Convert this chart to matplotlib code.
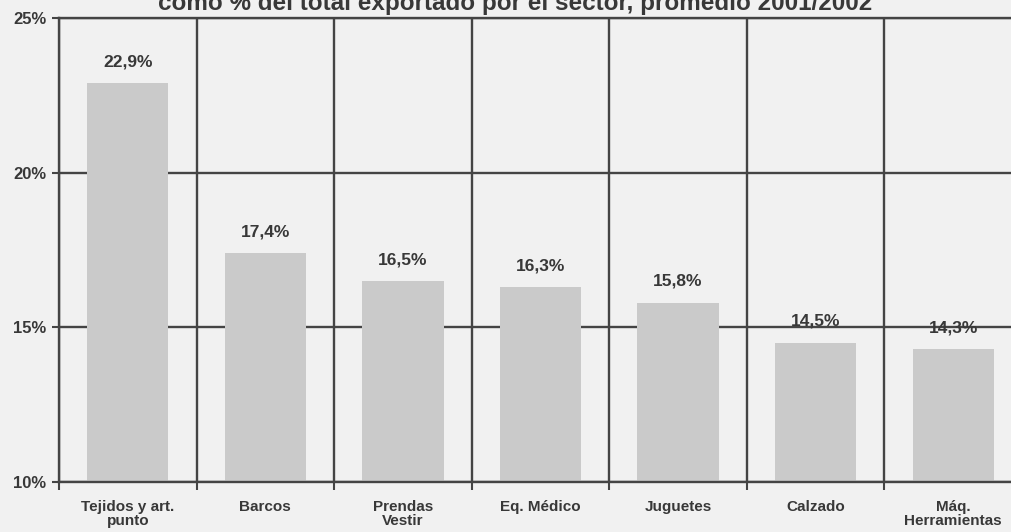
import numpy as np
import matplotlib
matplotlib.use('Agg')
from matplotlib import pyplot as plt

plt.rcParams['font.family'] = ['Liberation Sans', 'DejaVu Sans']
plt.rcParams['font.weight'] = 'bold'

sectores = ['Tejidos y art.\npunto', 'Barcos', 'Prendas\nVestir', 'Eq. Médico',
            'Juguetes', 'Calzado', 'Máq.\nHerramientas']
valores = [22.9, 17.4, 16.5, 16.3, 15.8, 14.5, 14.3]
etiquetas = ['22,9%', '17,4%', '16,5%', '16,3%', '15,8%', '14,5%', '14,3%']
y_ticks = [10, 15, 20, 25]

fondo = '#f1f1f1'
texto = '#383838'
fig = plt.figure(figsize=(10.11, 5.32), dpi=100, facecolor=fondo)
ax = fig.add_axes([59 / 1011, 1 - 482 / 532, 963 / 1011, 464 / 532])
ax.set_facecolor(fondo)

x = np.arange(len(sectores))
ax.bar(x, np.array(valores) - 10, bottom=10, width=0.59, color='#cacaca', zorder=2)

for xi, v, t in zip(x, valores, etiquetas):
    ax.text(xi, v + 0.45, t, ha='center', va='bottom', fontsize=12.5,
            fontweight='bold', color=texto, zorder=3)

ax.set_xlim(-0.5, len(sectores) - 0.5)
ax.set_ylim(10, 25)
ax.set_yticks(y_ticks)
ax.set_yticklabels([f'{t}%' for t in y_ticks], fontsize=12, fontweight='bold', color=texto)

# limites de categoria como ticks mayores, nombres como menores
ax.set_xticks(np.arange(len(sectores) + 1) - 0.5)
ax.set_xticklabels([])
ax.set_xticks(x, minor=True)
ax.set_xticklabels(sectores, minor=True, fontsize=11, fontweight='bold', color=texto,
                   linespacing=1.0)
ax.tick_params(axis='x', which='minor', length=0, pad=13)
ax.tick_params(axis='x', which='major', length=6, width=1.5, color='#444444')
ax.tick_params(axis='y', length=5, width=1.5, color='#444444', pad=4)

ax.grid(True, which='major', color='#444444', linewidth=1.7, zorder=1)
ax.set_axisbelow(True)
for s in ax.spines.values():
    s.set_color('#444444')
    s.set_linewidth(1.7)

fig.text(0.51, 1 - 10 / 532, 'como % del total exportado por el sector, promedio 2001/2002',
         ha='center', va='baseline', fontsize=17.5, fontweight='bold', color=texto)

fig.savefig('out.png', dpi=100, facecolor=fondo)
